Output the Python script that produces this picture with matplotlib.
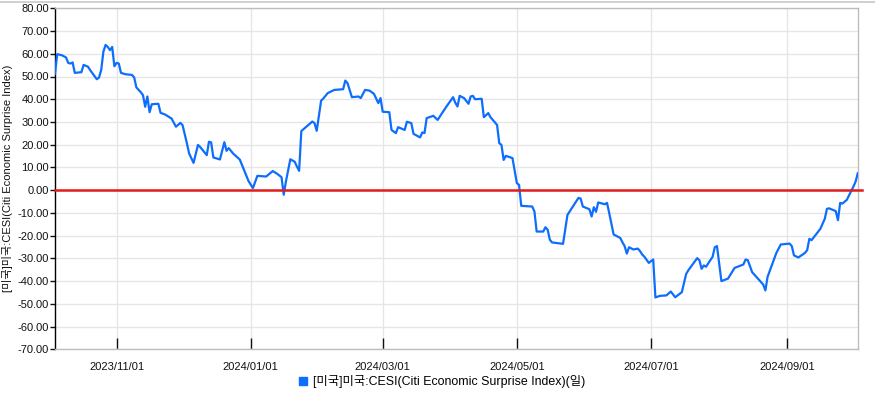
import matplotlib
matplotlib.use("Agg")
import matplotlib.pyplot as plt
import matplotlib.dates as mdates
from matplotlib.lines import Line2D
import numpy as np
import pandas as pd

dates = [
    "2023-10-04", "2023-10-05", "2023-10-07", "2023-10-09", "2023-10-10", "2023-10-11", "2023-10-12",
    "2023-10-13", "2023-10-16", "2023-10-17", "2023-10-19", "2023-10-20", "2023-10-23", "2023-10-24",
    "2023-10-25", "2023-10-26", "2023-10-27", "2023-10-28", "2023-10-29", "2023-10-30", "2023-10-31",
    "2023-11-01", "2023-11-02", "2023-11-03", "2023-11-05", "2023-11-08", "2023-11-09", "2023-11-10",
    "2023-11-12", "2023-11-13", "2023-11-14", "2023-11-15", "2023-11-16", "2023-11-17", "2023-11-20",
    "2023-11-21", "2023-11-23", "2023-11-26", "2023-11-28", "2023-11-30", "2023-12-01", "2023-12-03",
    "2023-12-04", "2023-12-06", "2023-12-08", "2023-12-09", "2023-12-12", "2023-12-13", "2023-12-14",
    "2023-12-15", "2023-12-18", "2023-12-20", "2023-12-21", "2023-12-22", "2023-12-24", "2023-12-27",
    "2023-12-29", "2023-12-31", "2024-01-02", "2024-01-04", "2024-01-08", "2024-01-11", "2024-01-13",
    "2024-01-15", "2024-01-16", "2024-01-17", "2024-01-19", "2024-01-21", "2024-01-22", "2024-01-23",
    "2024-01-24", "2024-01-26", "2024-01-29", "2024-01-30", "2024-01-31", "2024-02-02", "2024-02-03",
    "2024-02-05", "2024-02-08", "2024-02-12", "2024-02-13", "2024-02-14", "2024-02-16", "2024-02-19",
    "2024-02-20", "2024-02-22", "2024-02-24", "2024-02-26", "2024-02-28", "2024-02-29", "2024-03-01",
    "2024-03-04", "2024-03-05", "2024-03-07", "2024-03-08", "2024-03-11", "2024-03-12", "2024-03-14",
    "2024-03-15", "2024-03-18", "2024-03-19", "2024-03-20", "2024-03-21", "2024-03-24", "2024-03-26",
    "2024-03-28", "2024-03-30", "2024-04-02", "2024-04-03", "2024-04-04", "2024-04-05", "2024-04-07",
    "2024-04-09", "2024-04-10", "2024-04-11", "2024-04-12", "2024-04-15", "2024-04-16", "2024-04-18",
    "2024-04-19", "2024-04-22", "2024-04-23", "2024-04-24", "2024-04-25", "2024-04-26", "2024-04-29",
    "2024-05-01", "2024-05-02", "2024-05-03", "2024-05-08", "2024-05-09", "2024-05-10", "2024-05-13",
    "2024-05-14", "2024-05-15", "2024-05-16", "2024-05-17", "2024-05-22", "2024-05-24", "2024-05-26",
    "2024-05-29", "2024-05-30", "2024-05-31", "2024-06-03", "2024-06-04", "2024-06-05", "2024-06-06",
    "2024-06-07", "2024-06-10", "2024-06-11", "2024-06-12", "2024-06-14", "2024-06-17", "2024-06-18",
    "2024-06-19", "2024-06-20", "2024-06-21", "2024-06-23", "2024-06-25", "2024-06-26", "2024-06-27",
    "2024-06-28", "2024-06-30", "2024-07-01", "2024-07-02", "2024-07-03", "2024-07-05", "2024-07-08",
    "2024-07-10", "2024-07-12", "2024-07-15", "2024-07-17", "2024-07-18", "2024-07-22", "2024-07-23",
    "2024-07-24", "2024-07-25", "2024-07-26", "2024-07-29", "2024-07-30", "2024-07-31", "2024-08-02",
    "2024-08-05", "2024-08-08", "2024-08-12", "2024-08-13", "2024-08-14", "2024-08-16", "2024-08-19",
    "2024-08-21", "2024-08-22", "2024-08-23", "2024-08-27", "2024-08-29", "2024-09-02", "2024-09-03",
    "2024-09-04", "2024-09-06", "2024-09-09", "2024-09-10", "2024-09-11", "2024-09-12", "2024-09-16",
    "2024-09-18", "2024-09-19", "2024-09-20", "2024-09-23", "2024-09-24", "2024-09-25", "2024-09-26",
    "2024-09-28", "2024-10-01", "2024-10-02", "2024-10-03",
]
cesi = [
    51.3, 59.8, 59.4, 58.4, 56.0, 55.7, 56.2,
    51.6, 51.9, 55.1, 54.3, 52.8, 48.8, 49.5,
    52.8, 60.9, 63.9, 63.0, 61.6, 63.0, 54.5,
    56.0, 55.7, 51.6, 51.0, 50.7, 49.6, 45.2,
    43.1, 41.8, 36.7, 41.2, 34.3, 37.8, 38.0,
    34.0, 33.3, 31.5, 27.9, 29.6, 28.6, 20.5,
    16.1, 12.0, 19.9, 19.0, 15.4, 21.3, 21.0,
    14.4, 13.5, 21.1, 17.3, 18.5, 16.1, 13.5,
    8.8, 4.0, 0.9, 6.3, 6.0, 8.4, 7.2,
    5.7, -2.0, 3.8, 13.6, 12.5, 10.4, 8.5,
    26.0, 27.7, 30.2, 29.5, 26.1, 39.4, 40.3,
    42.7, 44.1, 44.4, 48.2, 47.1, 40.9, 41.2,
    40.5, 44.1, 43.8, 42.4, 38.3, 40.5, 34.5,
    34.3, 26.5, 25.1, 27.7, 26.5, 30.1, 29.5,
    24.8, 23.2, 25.4, 25.1, 31.7, 32.7, 30.9,
    33.9, 36.8, 40.9, 38.5, 36.8, 41.5, 40.5,
    38.0, 41.2, 41.5, 40.0, 40.2, 32.1, 33.9,
    32.1, 28.7, 20.7, 19.9, 13.3, 15.1, 14.1,
    3.1, 2.3, -6.9, -7.2, -9.4, -18.2, -18.2,
    -16.3, -17.4, -21.8, -23.0, -23.6, -10.9, -7.9,
    -3.4, -3.7, -7.2, -8.4, -11.6, -7.5, -9.5,
    -5.4, -6.2, -5.6, -10.1, -19.5, -21.0, -22.9,
    -24.6, -27.9, -25.1, -26.1, -25.7, -26.8, -28.3,
    -29.3, -32.0, -31.2, -30.5, -47.2, -46.5, -46.3,
    -44.6, -47.1, -44.9, -36.8, -35.2, -29.9, -30.8,
    -34.6, -33.1, -33.7, -29.3, -25.1, -24.6, -40.0,
    -38.9, -34.2, -32.7, -30.5, -30.8, -36.1, -39.3,
    -41.5, -44.1, -38.1, -27.6, -23.9, -23.5, -24.6,
    -28.7, -29.6, -27.6, -26.4, -21.4, -22.0, -17.0,
    -12.6, -8.2, -8.0, -9.2, -13.2, -5.6, -5.9,
    -4.3, 1.5, 3.7, 7.4,
]
tick_dates = ["2023-11-01", "2024-01-01", "2024-03-01", "2024-05-01", "2024-07-01", "2024-09-01"]
y_ticks = list(range(-70, 81, 10))
ylabel = "[미국]미국:CESI(Citi Economic Surprise Index)"
legend_label = "[미국]미국:CESI(Citi Economic Surprise Index)(일)"

FONT = ["Liberation Sans", "Noto Sans CJK KR", "DejaVu Sans"]
plt.rcParams["font.family"] = FONT

x = pd.to_datetime(dates)
fig = plt.figure(figsize=(8.75, 3.99), dpi=100)
ax = fig.add_axes([55 / 875, 1 - 349.3 / 399, (858.3 - 55) / 875, (349.3 - 8.3) / 399])

blue = "#0d6efd"
red = "#e31b1b"
ax.plot(x, cesi, color=blue, lw=1.6, zorder=3, solid_joinstyle="round")
ax.axhline(0, color=red, lw=1.8, zorder=4, xmin=0, xmax=1.005, clip_on=False)

ax.set_xlim(x[0], x[-1] + pd.Timedelta(hours=6))
ax.set_ylim(-70, 80)
ax.set_yticks(y_ticks)
ax.yaxis.set_major_formatter(matplotlib.ticker.FuncFormatter(lambda v, p: f"{v:.2f}"))
ax.set_xticks(pd.to_datetime(tick_dates))
ax.xaxis.set_major_formatter(mdates.DateFormatter("%Y/%m/%d"))

ax.grid(True, color="#e6e6e6", lw=1.0, zorder=0)
ax.set_axisbelow(True)

ax.tick_params(axis="x", direction="in", length=8, width=1, color="#111111", pad=9,
               labelsize=8, labelcolor="#111111")
ax.tick_params(axis="y", direction="out", length=3.5, width=1, color="#111111", pad=1,
               labelsize=8, labelcolor="#111111")

for s in ["top", "right", "bottom"]:
    ax.spines[s].set_color("#bdbdbd")
    ax.spines[s].set_linewidth(1.0)
ax.spines["left"].set_color("#000000")
ax.spines["left"].set_linewidth(1.0)

fig.text(8 / 875, 1 - 178.8 / 399, ylabel, rotation=90, ha="center", va="center",
         fontsize=8, color="#111111", family=FONT)

fig.add_artist(Line2D([0, 1], [1 - 1.5 / 399, 1 - 1.5 / 399], color="#c8c8c8", lw=1.2))

handle = Line2D([], [], marker="s", color=blue, linestyle="none", markersize=6)
fig.legend([handle], [legend_label], loc="center", bbox_to_anchor=(441 / 875, 1 - 382 / 399),
           frameon=False, handletextpad=0.3, handlelength=1.0,
           borderpad=0, prop={"family": FONT, "size": 8.9})

fig.savefig("out.png", dpi=100)
